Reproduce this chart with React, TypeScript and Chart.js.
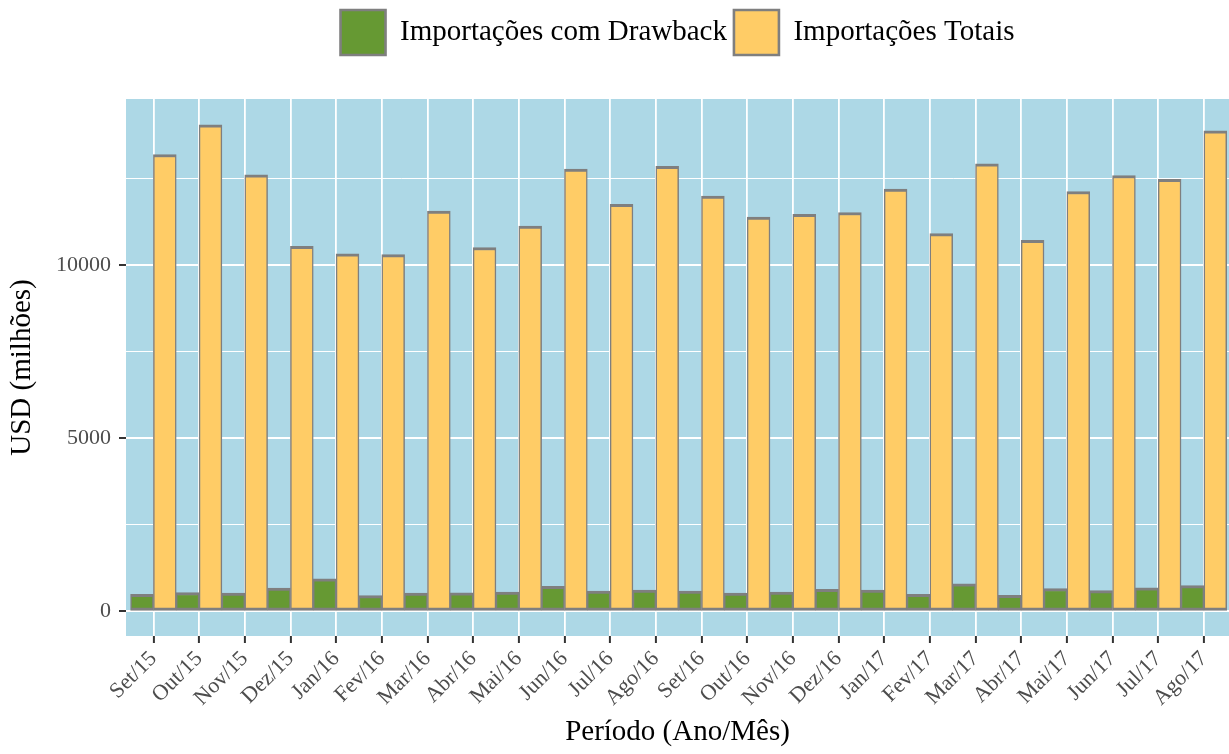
import React, { useEffect, useRef } from 'react';
import { Chart, registerables } from 'chart.js';

Chart.register(...registerables);

const labels = [
  'Set/15', 'Out/15', 'Nov/15', 'Dez/15', 'Jan/16', 'Fev/16', 'Mar/16', 'Abr/16',
  'Mai/16', 'Jun/16', 'Jul/16', 'Ago/16', 'Set/16', 'Out/16', 'Nov/16', 'Dez/16',
  'Jan/17', 'Fev/17', 'Mar/17', 'Abr/17', 'Mai/17', 'Jun/17', 'Jul/17', 'Ago/17',
];

const drawback = [
  494, 545, 525, 669, 936, 453, 525, 535,
  556, 720, 587, 617, 587, 525, 556, 638,
  617, 494, 792, 463, 659, 597, 679, 741,
];

const totais = [
  13190, 14045, 12605, 10537, 10321, 10300, 11556, 10506,
  11123, 12770, 11751, 12852, 11988, 11381, 11463, 11515,
  12194, 10907, 12924, 10712, 12122, 12585, 12471, 13871,
];

const yTicks = [0, 2500, 5000, 7500, 10000, 12500];
const yLabelled = [0, 5000, 10000];

const seriesNames = ['Importações com Drawback', 'Importações Totais'];
const seriesColors = ['#669933', '#FFCC66'];
const yTitle = 'USD (milhões)';
const xTitle = 'Período (Ano/Mês)';

export default function App() {
  const ref = useRef<HTMLCanvasElement>(null);

  useEffect(() => {
    document.body.style.margin = '0';
    const canvas = ref.current;
    if (!canvas) return;
    const font = 'Liberation Serif';

    const panelBg = {
      id: 'panelBg',
      beforeDraw(chart: any) {
        const { ctx, chartArea: a } = chart;
        ctx.save();
        ctx.fillStyle = '#ADD8E6';
        ctx.fillRect(a.left, a.top, a.right - a.left, a.bottom - a.top);
        ctx.restore();
      },
    };

    const legendGap = {
      id: 'legendGap',
      beforeInit(chart: any) {
        const lg = chart.legend;
        if (!lg) return;
        const fit = lg.fit;
        lg.fit = function () {
          fit.call(this);
          this.height += 34;
        };
      },
    };

    const isMajor = (c: any) => c.tick && yLabelled.includes(c.tick.value);
    const barBorder = { top: 3, bottom: 3, left: 1.5, right: 1.5 };

    const chart = new Chart(canvas, {
      type: 'bar',
      data: {
        datasets: [
          {
            label: seriesNames[0],
            data: drawback.map((v, i) => ({ x: i, y: v })),
            backgroundColor: seriesColors[0],
            borderColor: '#7F7F7F',
            borderWidth: barBorder,
            borderSkipped: false,
            categoryPercentage: 1,
            barPercentage: 1,
          },
          {
            label: seriesNames[1],
            data: totais.map((v, i) => ({ x: i, y: v })),
            backgroundColor: seriesColors[1],
            borderColor: '#7F7F7F',
            borderWidth: barBorder,
            borderSkipped: false,
            categoryPercentage: 1,
            barPercentage: 1,
          },
        ],
      },
      options: {
        responsive: false,
        animation: false,
        devicePixelRatio: 1,
        layout: { padding: { top: 3, left: 0, right: 0, bottom: 0 } },
        plugins: {
          legend: {
            position: 'top',
            fullSize: false,
            labels: {
              boxWidth: 45,
              boxHeight: 45,
              padding: 7,
              color: '#000',
              font: { family: font, size: 29 },
              generateLabels: (chart: any) =>
                chart.data.datasets.map((ds: any, i: number) => ({
                  text: ds.label,
                  fillStyle: ds.backgroundColor,
                  strokeStyle: ds.borderColor,
                  lineWidth: 2.6,
                  hidden: false,
                  datasetIndex: i,
                  fontColor: '#000',
                })),
            },
          },
          tooltip: { enabled: false },
        },
        scales: {
          x: {
            type: 'linear',
            min: -0.6,
            max: 23.55,
            offset: false,
            grid: {
              offset: false,
              color: '#FFFFFF',
              lineWidth: 1.8,
              tickColor: '#333333',
              tickLength: 7,
              tickWidth: 2,
            },
            border: { display: false },
            afterBuildTicks: (s: any) => {
              s.ticks = labels.map((_, i) => ({ value: i }));
            },
            ticks: {
              autoSkip: false,
              maxRotation: 45,
              minRotation: 45,
              padding: 3,
              color: '#4D4D4D',
              font: { family: font, size: 22 },
              callback: (v: any) => labels[Number(v)] ?? '',
            },
            title: {
              display: true,
              text: xTitle,
              color: '#000',
              font: { family: font, size: 29 },
              padding: { top: 0, bottom: 4 },
            },
            afterFit: (s: any) => {
              s.height = 118;
            },
          },
          y: {
            type: 'linear',
            min: -712,
            max: 14793,
            afterBuildTicks: (s: any) => {
              s.ticks = yTicks.map((v) => ({ value: v }));
            },
            ticks: {
              padding: 8,
              color: '#4D4D4D',
              font: { family: font, size: 22 },
              callback: (v: any) => (yLabelled.includes(Number(v)) ? String(v) : ''),
            },
            grid: {
              color: '#FFFFFF',
              lineWidth: (c: any) => (isMajor(c) ? 2 : 1),
              tickColor: (c: any) => (isMajor(c) ? '#333333' : 'rgba(0,0,0,0)'),
              tickLength: 7,
              tickWidth: 2,
            },
            border: { display: false },
            title: {
              display: true,
              text: yTitle,
              color: '#000',
              font: { family: font, size: 29 },
              padding: { top: 5, bottom: 4 },
            },
            afterFit: (s: any) => {
              s.width = 126;
            },
          },
        },
      } as any,
      plugins: [panelBg, legendGap],
    });

    return () => chart.destroy();
  }, []);

  return <canvas ref={ref} width={1229} height={754} style={{ display: 'block' }} />;
}
